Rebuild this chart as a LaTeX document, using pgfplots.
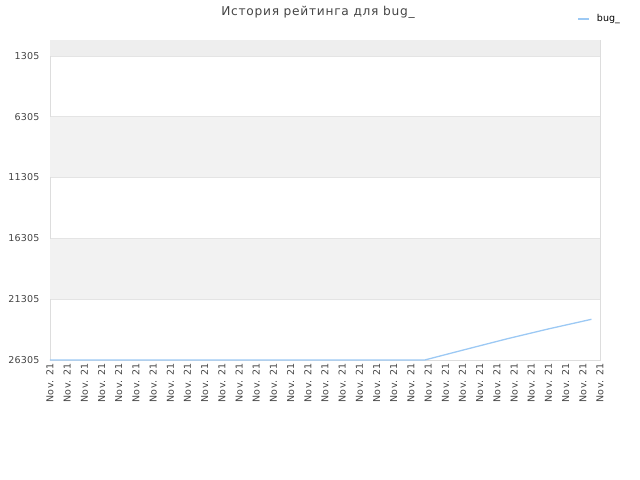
\documentclass[border=0pt]{standalone}
\usepackage{pgfplots}
\pgfplotsset{compat=1.18}
\usepackage{fontspec}
\setmainfont{DejaVu Sans}
\definecolor{lineblue}{HTML}{9CC9F4}
\definecolor{bandgray}{HTML}{F2F2F2}
\definecolor{topgray}{HTML}{EEEEEE}
\definecolor{frame}{HTML}{DDDDDD}
\definecolor{gridc}{HTML}{E4E4E4}
\definecolor{txt}{HTML}{444444}
\begin{document}
\begin{tikzpicture}
\useasboundingbox (-50bp,-120bp) rectangle (590bp,360bp);
\begin{axis}[
  at={(0,0)}, anchor=south west,
  scale only axis, width=550bp, height=320bp,
  xmin=0, xmax=32, ymin=0, ymax=26305,
  y dir=reverse,
  axis line style={frame},
  ytick={1305,6305,11305,16305,21305,26305},
  yticklabels={1305,6305,11305,16305,21305,26305},
  xtick={0,...,32},
  xticklabels={Nov. 21,Nov. 21,Nov. 21,Nov. 21,Nov. 21,Nov. 21,Nov. 21,Nov. 21,Nov. 21,Nov. 21,Nov. 21,Nov. 21,Nov. 21,Nov. 21,Nov. 21,Nov. 21,Nov. 21,Nov. 21,Nov. 21,Nov. 21,Nov. 21,Nov. 21,Nov. 21,Nov. 21,Nov. 21,Nov. 21,Nov. 21,Nov. 21,Nov. 21,Nov. 21,Nov. 21,Nov. 21,Nov. 21},
  xticklabel style={rotate=90, anchor=east, font=\fontsize{9.5bp}{10bp}\selectfont\addfontfeature{LetterSpace=4}},
  yticklabel style={xshift=-7bp, font=\fontsize{9.5bp}{10bp}\selectfont\addfontfeature{LetterSpace=2}},
  major tick length=0pt,
  tick label style={text=txt},
  ymajorgrids, xmajorgrids=false, grid style={gridc, line width=0.6bp},
  scaled y ticks=false,
  /pgf/number format/assume math mode=true,
  legend style={draw=none, fill=none, at={(rel axis cs:1.04,1.045)}, anchor=south east,
    font=\fontsize{9.5bp}{10bp}\selectfont, text=black, inner sep=0pt},
  legend image code/.code={\draw[#1] (-2bp,0bp) -- (9bp,0bp); \path (14bp,0bp);},
]
\fill[topgray] ([xshift=0.5bp,yshift=-0.5bp]axis cs:0,0) rectangle ([xshift=-0.5bp,yshift=0.3bp]axis cs:32,1305);
\fill[bandgray] ([xshift=0.5bp,yshift=-0.3bp]axis cs:0,6305) rectangle ([xshift=-0.5bp,yshift=0.3bp]axis cs:32,11305);
\fill[bandgray] ([xshift=0.5bp,yshift=-0.3bp]axis cs:0,16305) rectangle ([xshift=-0.5bp,yshift=0.3bp]axis cs:32,21305);
\addplot[lineblue, line width=1.3bp] coordinates {
  (0,26305) (21.8,26305) (24,25500) (26.6,24560) (29,23750) (31.5,22960)
};
\addlegendentry{bug\_}
\end{axis}
\node[text=txt, font=\fontsize{12.2bp}{13bp}\selectfont\addfontfeature{LetterSpace=6}] at (268bp,348bp) {История рейтинга для bug\_};
\end{tikzpicture}
\end{document}
